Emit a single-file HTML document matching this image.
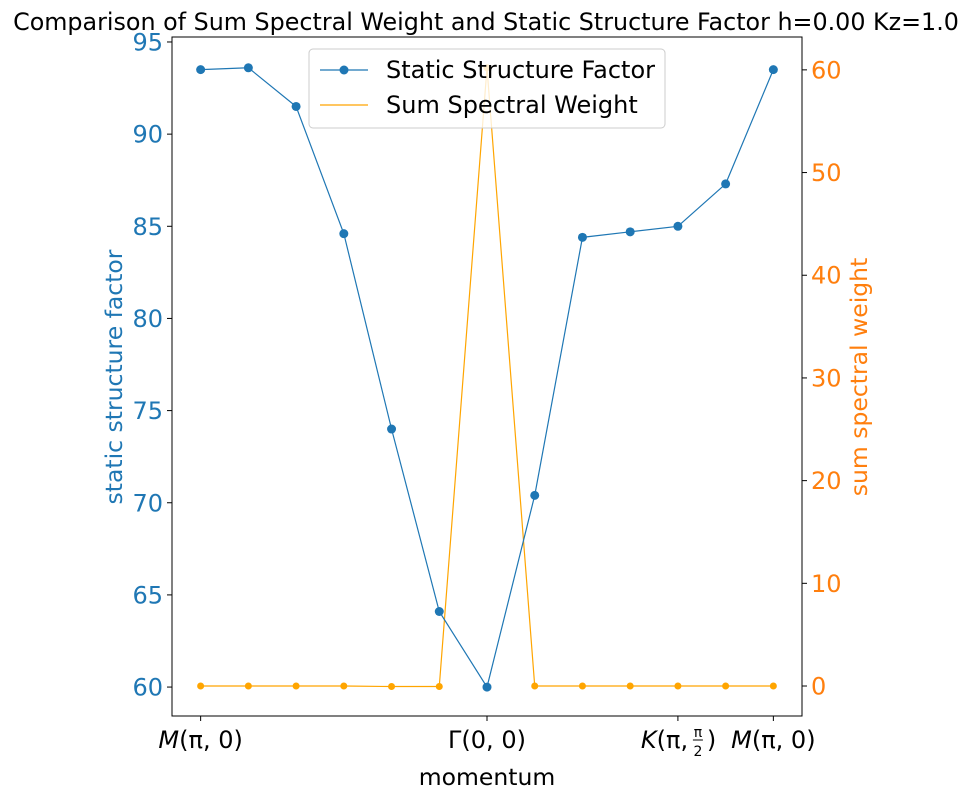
<!DOCTYPE html>
<html><head><meta charset="utf-8"><style>
body{margin:0;background:#fff;font-family:"Liberation Sans","DejaVu Sans",sans-serif}
svg text{font-family:"DejaVu Sans","Liberation Sans",sans-serif}
</style></head><body>
<svg id="chart" width="973" height="800" xmlns="http://www.w3.org/2000/svg"></svg>
<script>
const categories=["0","1","2","3","4","5","6","7","8","9","10","11","12"];
const ssfValues=[93.5,93.6,91.5,84.6,74.0,64.1,60.0,70.4,84.4,84.7,85.0,87.3,93.5];
const sswValues=[0,0,0,0,-0.05,-0.05,60.2,0,0,0,0,0,0];
const leftTicks=[60,65,70,75,80,85,90,95];
const rightTicks=[0,10,20,30,40,50,60];
const xTickIdx=[0,6,10,12];
const xTickLetters=["M","Γ","K","M"];
const xTickArgs=["(π, 0)","(0, 0)","(π, ","(π, 0)"];

const NS="http://www.w3.org/2000/svg";
const svg=document.getElementById('chart');
const L=172,R=802,T=37,B=716;
const xS=i=>L+(i+0.6)/13.2*(R-L);
const yL=v=>B-(v-58.43)/(95.27-58.43)*(B-T);
const yR=v=>B-(v+2.92)/(63.2+2.92)*(B-T);
function el(tag,attrs,text,parent){const e=document.createElementNS(NS,tag);for(const k in attrs)e.setAttribute(k,attrs[k]);if(text!==undefined)e.textContent=text;(parent||svg).appendChild(e);return e;}
const BLUE="#1f77b4",ORANGE="#ff7f0e",OR="#ffa500";

let t=el('text',{x:486,y:30,'font-size':23.8,'text-anchor':'middle',fill:'#000'},"Comparison of Sum Spectral Weight and Static Structure Factor h=0.00 Kz=1.0");


let p=el('polyline',{points:sswValues.map((v,i)=>xS(i)+','+yR(v)).join(' '),fill:'none',stroke:OR,'stroke-width':1.2});

sswValues.forEach((v,i)=>{const c=el('circle',{cx:xS(i),cy:yR(v),r:3.5,fill:OR});

});
p=el('polyline',{points:ssfValues.map((v,i)=>xS(i)+','+yL(v)).join(' '),fill:'none',stroke:BLUE,'stroke-width':1.2});

ssfValues.forEach((v,i)=>{const c=el('circle',{cx:xS(i),cy:yL(v),r:4.5,fill:BLUE});

});

let f=el('rect',{x:L,y:T,width:R-L,height:B-T,fill:'none',stroke:'#000','stroke-width':1});


leftTicks.forEach(v=>{const y=yL(v);el('line',{x1:L-5,x2:L,y1:y,y2:y,stroke:'#000'});
const tx=el('text',{x:L-9,y:y+8.5,'font-size':24,'text-anchor':'end',fill:BLUE},v);

});
rightTicks.forEach(v=>{const y=yR(v);el('line',{x1:R,x2:R+5,y1:y,y2:y,stroke:'#000'});
const tx=el('text',{x:R+9,y:y+8.5,'font-size':24,'text-anchor':'start',fill:ORANGE},v);

});
xTickIdx.forEach((idx,k)=>{const x=xS(idx);el('line',{x1:x,x2:x,y1:B,y2:B+5,stroke:'#000'});
const isK=xTickLetters[k]==="K";
const tx=el('text',isK?{x:x-37,y:B+32,'font-size':24,'text-anchor':'start',fill:'#000'}:{x:x,y:B+32,'font-size':24,'text-anchor':'middle',fill:'#000'});
el('tspan',{'font-style':xTickLetters[k]==="Γ"?'normal':'italic'},xTickLetters[k],tx);
el('tspan',{},xTickArgs[k],tx);
if(isK){const fx=x+20;
el('text',{x:fx,y:B+21,'font-size':14,'text-anchor':'middle'},"π");
el('line',{x1:fx-5,x2:fx+5,y1:B+24,y2:B+24,stroke:'#000','stroke-width':1});
el('text',{x:fx,y:B+40,'font-size':14,'text-anchor':'middle'},"2");
el('text',{x:fx+9,y:B+32,'font-size':24,'text-anchor':'start'},")");}

});

t=el('text',{x:487,y:785,'font-size':23.5,'text-anchor':'middle'},"momentum");

t=el('text',{x:0,y:0,'font-size':23.5,'text-anchor':'middle',fill:BLUE,transform:'translate(122,377) rotate(-90)'},"static structure factor");

t=el('text',{x:0,y:0,'font-size':23.5,'text-anchor':'middle',fill:ORANGE,transform:'translate(867,377) rotate(-90)'},"sum spectral weight");


let lg=el('rect',{x:309,y:49,width:356,height:79,rx:4,fill:'#fff','fill-opacity':0.8,stroke:'#ccc'});

el('line',{x1:320,x2:368,y1:70,y2:70,stroke:BLUE,'stroke-width':1.2});
el('circle',{cx:344,cy:70,r:4.5,fill:BLUE});
t=el('text',{x:386,y:78,'font-size':24},"Static Structure Factor");

el('line',{x1:320,x2:368,y1:105,y2:105,stroke:OR,'stroke-width':1.2});
t=el('text',{x:386,y:113,'font-size':24},"Sum Spectral Weight");

</script>
</body></html>
